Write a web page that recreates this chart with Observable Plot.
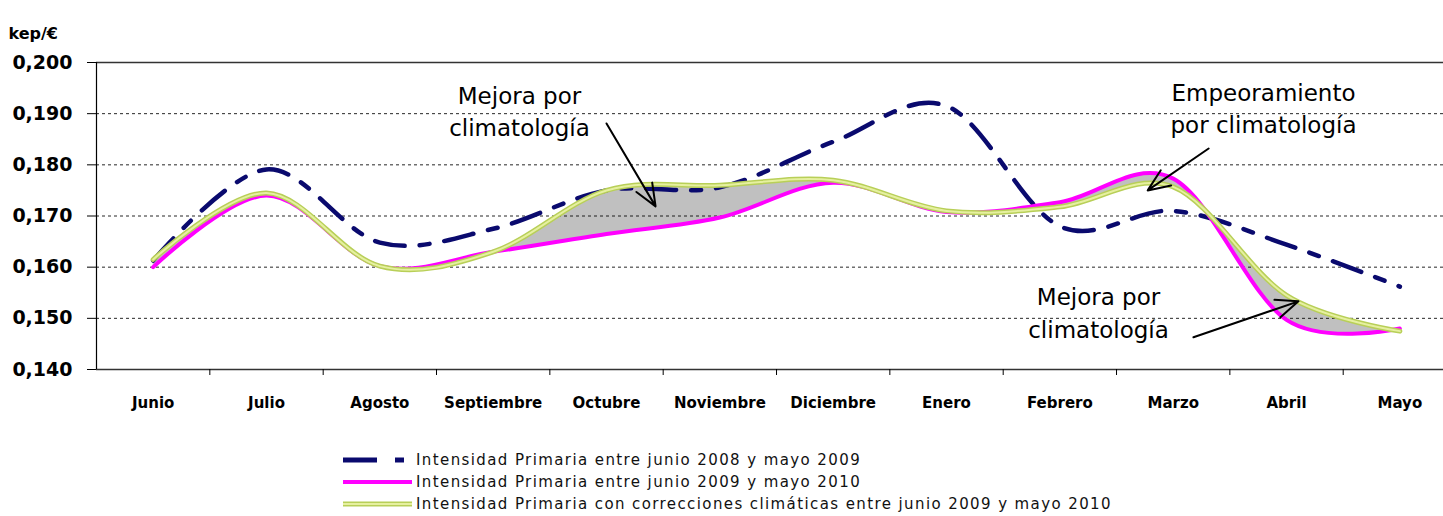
<!DOCTYPE html>
<html>
<head>
<meta charset="utf-8">
<script src="https://cdn.jsdelivr.net/npm/d3@7"></script>
<script src="https://cdn.jsdelivr.net/npm/@observablehq/plot@0.6"></script>
<style>
  html, body { margin: 0; padding: 0; background: #fff; }
  #wrap { position: relative; width: 1443px; height: 516px; overflow: hidden; }
  .leg { position: absolute; left: 343px; height: 22px; line-height: 22px; font-family: "DejaVu Sans", sans-serif; font-size: 15px; letter-spacing: 1.4px; color: #111; white-space: nowrap; }
  .leg svg { position: absolute; left: 0; top: 6px; }
  .leg span { position: absolute; left: 73px; top: 0; }
</style>
</head>
<body>
<div id="wrap"></div>
<script>
// ---- data ----
const months = ["Junio","Julio","Agosto","Septiembre","Octubre","Noviembre","Diciembre","Enero","Febrero","Marzo","Abril","Mayo"];
const int2008 = [0.1613, 0.1791, 0.1648, 0.1675, 0.1750, 0.1756, 0.1845, 0.1915, 0.1680, 0.1710, 0.1644, 0.1562];
const int2009 = [0.1600, 0.1740, 0.1602, 0.1630, 0.1665, 0.1697, 0.1765, 0.1708, 0.1727, 0.1773, 0.1497, 0.1480];
const intCorr = [0.1615, 0.1745, 0.1602, 0.1630, 0.1750, 0.1760, 0.1770, 0.1710, 0.1718, 0.1757, 0.1545, 0.1475];
const yTicks = [0.14, 0.15, 0.16, 0.17, 0.18, 0.19, 0.20];
const legendLabels = [
  "Intensidad Primaria entre junio 2008 y mayo 2009",
  "Intensidad Primaria entre junio 2009 y mayo 2010",
  "Intensidad Primaria con correcciones climáticas entre junio 2009 y mayo 2010"
];
const notes = [
  {x: 3.232, y: 0.18555, text: "Mejora por\nclimatología"},
  {x: 9.797, y: 0.18613, text: "Empeoramiento\npor climatología"},
  {x: 8.341, y: 0.14609, text: "Mejora por\nclimatología"}
];
const arrows = [
  {x1: 4.00, y1: 0.18809, x2: 4.433, y2: 0.17188},
  {x1: 9.313, y1: 0.18320, x2: 8.775, y2: 0.17500},
  {x1: 9.179, y1: 0.14629, x2: 10.105, y2: 0.15332}
];

const idx = months.map((_, i) => i);
const rows = months.map((m, i) => ({i, a: int2008[i], b: int2009[i], c: intCorr[i]}));
const halfTicks = d3.range(0, 12).map(i => i + 0.5);
const fmt = d => d.toFixed(3).replace(".", ",");

const chart = Plot.plot({
  width: 1443,
  height: 440,
  marginTop: 62,
  marginLeft: 96,
  marginRight: 0,
  marginBottom: 71,
  x: {domain: [-0.5, 11.385], axis: null},
  y: {domain: [0.14, 0.2], axis: null},
  marks: [
    Plot.areaY(rows, {x: "i", y1: "b", y2: "c", curve: "cardinal", fill: "#c0c0c0"}),
    Plot.gridY([0.15, 0.16, 0.17, 0.18, 0.19], {stroke: "#000", strokeOpacity: 0.85, strokeDasharray: "3,3"}),
    Plot.ruleY([0.2], {stroke: "#333", strokeWidth: 1.5}),
    Plot.ruleY([0.14], {stroke: "#333", strokeWidth: 1.5}),
    Plot.ruleX([-0.5], {stroke: "#000", strokeWidth: 1.2}),
    Plot.axisY(yTicks, {tickSize: 9, tickPadding: 15, tickFormat: fmt, fontSize: 19, fontWeight: "bold", fontFamily: "DejaVu Sans", label: null, stroke: "#000"}),
    Plot.axisX(idx, {tickSize: 0, tickPadding: 28, tickFormat: i => months[i], fontSize: 15, fontWeight: "bold", fontFamily: "DejaVu Sans", label: null}),
    Plot.axisX(halfTicks, {tickSize: 6, tickFormat: () => "", label: null, stroke: "#000"}),
    Plot.line(rows, {x: "i", y: "a", curve: "cardinal", stroke: "#0a0a6e", strokeWidth: 4.5, strokeDasharray: "30,15,10,15"}),
    Plot.line(rows, {x: "i", y: "b", curve: "cardinal", stroke: "#ff00ff", strokeWidth: 4}),
    Plot.line(rows, {x: "i", y: "c", curve: "cardinal", stroke: "#b8cf58", strokeWidth: 5}),
    Plot.line(rows, {x: "i", y: "c", curve: "cardinal", stroke: "#e6f0a0", strokeWidth: 2}),
    Plot.arrow(arrows, {x1: "x1", y1: "y1", x2: "x2", y2: "y2", stroke: "#000", strokeWidth: 2, headLength: 18, headAngle: 45, bend: 0}),
    Plot.text(notes, {x: "x", y: "y", text: "text", lineAnchor: "bottom", lineHeight: 1.43, fontSize: 23, fontFamily: "DejaVu Sans", fill: "#000"}),
    Plot.text(["kep/€"], {frameAnchor: "top-left", dx: -88, dy: -24, textAnchor: "start", lineAnchor: "bottom", fontSize: 16, fontWeight: "bold", fontFamily: "DejaVu Sans", fill: "#000"})
  ]
});

const wrap = document.getElementById("wrap");
wrap.appendChild(chart);

// legend
const swatches = [
  '<svg width="70" height="10"><line x1="0" x2="34" y1="5" y2="5" stroke="#0a0a6e" stroke-width="5"/><line x1="52" x2="61" y1="5" y2="5" stroke="#0a0a6e" stroke-width="5"/></svg>',
  '<svg width="70" height="10"><line x1="0" x2="69" y1="5" y2="5" stroke="#ff00ff" stroke-width="4"/></svg>',
  '<svg width="70" height="10"><line x1="0" x2="69" y1="5" y2="5" stroke="#b8cf58" stroke-width="5"/><line x1="0" x2="69" y1="5" y2="5" stroke="#e6f0a0" stroke-width="2"/></svg>'
];
const centers = [460, 482, 504];
legendLabels.forEach((lab, k) => {
  const d = document.createElement("div");
  d.className = "leg";
  d.style.top = (centers[k] - 11) + "px";
  d.innerHTML = swatches[k] + "<span></span>";
  d.querySelector("span").textContent = lab;
  wrap.appendChild(d);
});
</script>
</body>
</html>
